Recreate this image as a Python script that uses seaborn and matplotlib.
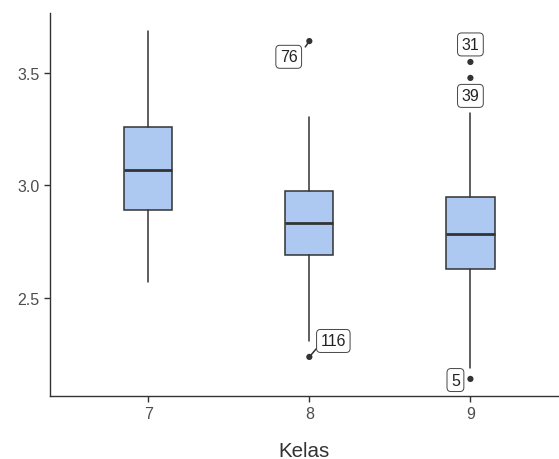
import matplotlib
matplotlib.use("Agg")
import matplotlib.pyplot as plt
import pandas as pd
import seaborn as sns

# Box statistics (per Kelas)
kelas = ["7", "8", "9"]
whisker_low = [2.569, 2.307, 2.187]
q1 = [2.889, 2.689, 2.627]
median = [3.067, 2.831, 2.782]
q3 = [3.258, 2.973, 2.947]
whisker_high = [3.689, 3.302, 3.324]

# Outliers with their row ids
out_kelas = ["8", "8", "9", "9", "9"]
out_value = [3.642, 2.236, 3.549, 3.478, 2.138]
out_id = ["76", "116", "31", "39", "5"]

sns.set_theme(style="ticks")
plt.rcParams["font.family"] = ["Liberation Sans", "DejaVu Sans"]

DARK = "#333333"
TXT = "#4d4d4d"
FILL = "#adc8f1"

fig = plt.figure(figsize=(5.59, 4.6), dpi=100)
ax = fig.add_axes([50 / 559, 1 - 397 / 460, 1 - 50 / 559, (397 - 14) / 460])

stats = []
for i, k in enumerate(kelas):
    stats.append(dict(label=k, whislo=whisker_low[i], q1=q1[i], med=median[i],
                      q3=q3[i], whishi=whisker_high[i], fliers=[]))

ax.bxp(stats, positions=range(len(kelas)), widths=0.3, patch_artist=True,
       showfliers=False, showcaps=False,
       boxprops=dict(facecolor=FILL, edgecolor=DARK, linewidth=1.1),
       whiskerprops=dict(color=DARK, linewidth=1.1),
       medianprops=dict(color=DARK, linewidth=2.0))

outliers = pd.DataFrame({"Kelas": out_kelas, "value": out_value, "id": out_id})
outliers["pos"] = outliers["Kelas"].map({k: i for i, k in enumerate(kelas)})
sns.scatterplot(data=outliers, x="pos", y="value", ax=ax, color=DARK,
                s=20, edgecolor="none", zorder=4, legend=False)

# repelled label placement (data units) and the box corner a segment starts from
label_xy = {"76": (0.872, 3.572), "116": (1.149, 2.307), "31": (2.0, 3.627),
            "39": (2.0, 3.398), "5": (1.907, 2.133)}
segment_from = {"76": (0.975, 3.616), "116": (1.043, 2.272)}
for _, r in outliers.iterrows():
    lx, ly = label_xy[r["id"]]
    if r["id"] in segment_from:
        sx, sy = segment_from[r["id"]]
        ax.plot([sx, r["pos"]], [sy, r["value"]], color=DARK, lw=1.1, zorder=3)
    ax.text(lx, ly, r["id"], ha="center", va="center", fontsize=11.5,
            color="#222222", zorder=5,
            bbox=dict(boxstyle="round,pad=0.25,rounding_size=0.25",
                      fc="white", ec="#444444", lw=0.7))

ax.set_xlim(-0.61, 2.55)
ax.set_ylim(2.062, 3.767)
ax.set_xticks(range(len(kelas)))
ax.set_xticklabels(kelas)
ax.set_yticks([2.5, 3.0, 3.5])
ax.set_yticklabels(["2.5", "3.0", "3.5"])
ax.set_xlabel("Kelas", fontsize=14.8, color="#333333", labelpad=14)
ax.set_ylabel("")
ax.tick_params(axis="both", labelsize=11.5, labelcolor=TXT, color=DARK,
               length=4, width=1)
for s in ["left", "bottom"]:
    ax.spines[s].set_color(DARK)
    ax.spines[s].set_linewidth(1.0)
sns.despine(ax=ax)

fig.savefig("out.png", dpi=100)
